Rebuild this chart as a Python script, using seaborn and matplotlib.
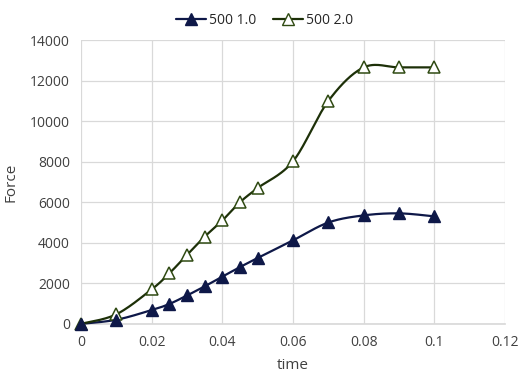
import numpy as np
import pandas as pd
import matplotlib
matplotlib.use("Agg")
import matplotlib.pyplot as plt
from matplotlib.lines import Line2D
import seaborn as sns

time = [0, 0.01, 0.02, 0.025, 0.03, 0.035, 0.04, 0.045, 0.05, 0.06, 0.07, 0.08, 0.09, 0.1]
force_500_1 = [0, 200, 680, 980, 1400, 1850, 2330, 2800, 3250, 4120, 5000, 5350, 5450, 5300]
force_500_2 = [0, 470, 1700, 2490, 3400, 4300, 5100, 6000, 6700, 8020, 11000, 12650, 12650, 12650]
series_names = ["500 1.0", "500 2.0"]
x_ticks = [0, 0.02, 0.04, 0.06, 0.08, 0.1, 0.12]
y_ticks = [0, 2000, 4000, 6000, 8000, 10000, 12000, 14000]


def smooth(xs, ys, n=30):
    p = np.column_stack([xs, ys]).astype(float)
    pts = np.vstack([p[0], p, p[-1]])
    out = []
    for i in range(1, len(pts) - 2):
        P0, P1, P2, P3 = pts[i - 1], pts[i], pts[i + 1], pts[i + 2]
        c1 = P1 + (P2 - P0) / 6.0
        c2 = P2 - (P3 - P1) / 6.0
        t = np.linspace(0, 1, n)[:, None]
        seg = ((1 - t) ** 3) * P1 + 3 * ((1 - t) ** 2) * t * c1 + 3 * (1 - t) * t ** 2 * c2 + t ** 3 * P2
        out.append(seg if i == 1 else seg[1:])
    s = np.vstack(out)
    return s[:, 0], s[:, 1]


sns.set_theme(style="white")
plt.rcParams["font.family"] = ["Open Sans", "DejaVu Sans"]

fig = plt.figure(figsize=(5.29, 3.81), dpi=100)
ax = fig.add_axes([0.153, 0.150, 0.802, 0.745])

navy = "#0e1848"
green_line = "#1d3008"
green_edge = "#2f4a12"

sx1, sy1 = smooth(time, force_500_1)
sx2, sy2 = smooth(time, force_500_2)
curves = pd.DataFrame({"x": np.concatenate([sx1, sx2]),
                       "y": np.concatenate([sy1, sy2]),
                       "s": [series_names[0]] * len(sx1) + [series_names[1]] * len(sx2)})
sns.lineplot(data=curves, x="x", y="y", hue="s", palette=[navy, green_line],
             sort=False, estimator=None, linewidth=1.6, legend=False, ax=ax, zorder=3)
for ln in ax.lines:
    ln.set_clip_on(False)

ax.plot(time, force_500_2, linestyle="none", marker="^", markersize=8.5,
        markerfacecolor="white", markeredgecolor=green_edge, markeredgewidth=1.1,
        zorder=4, clip_on=False)
ax.plot(time, force_500_1, linestyle="none", marker="^", markersize=8.5,
        markerfacecolor=navy, markeredgecolor=navy, zorder=5, clip_on=False)

ax.set_xlim(0, 0.12)
ax.set_ylim(0, 14000)
ax.set_xticks(x_ticks)
ax.set_xticklabels([f"{v:g}" for v in x_ticks])
ax.set_yticks(y_ticks)
ax.set_yticklabels([str(v) for v in y_ticks])
ax.grid(True, color="#d9d9d9", linewidth=0.9)
ax.set_axisbelow(True)
for side in ["top", "right", "left"]:
    ax.spines[side].set_visible(False)
ax.spines["bottom"].set_color("#d9d9d9")
ax.tick_params(axis="both", length=0, labelsize=10, colors="#404040", pad=8)
ax.set_xlabel("time", fontsize=11, color="#404040", labelpad=6)
ax.set_ylabel("Force", fontsize=11, color="#404040", labelpad=8)

handles = [
    Line2D([0], [0], color=navy, linewidth=1.6, marker="^", markersize=8.5,
           markerfacecolor=navy, markeredgecolor=navy),
    Line2D([0], [0], color=green_line, linewidth=1.6, marker="^", markersize=8.5,
           markerfacecolor="white", markeredgecolor=green_edge),
]
fig.legend(handles, series_names, loc="upper center", bbox_to_anchor=(0.5, 1.0),
           ncol=2, frameon=False, fontsize=10, handlelength=2.2, columnspacing=1.2,
           handletextpad=0.2, labelcolor="#262626")

fig.savefig("out.png", dpi=100)
